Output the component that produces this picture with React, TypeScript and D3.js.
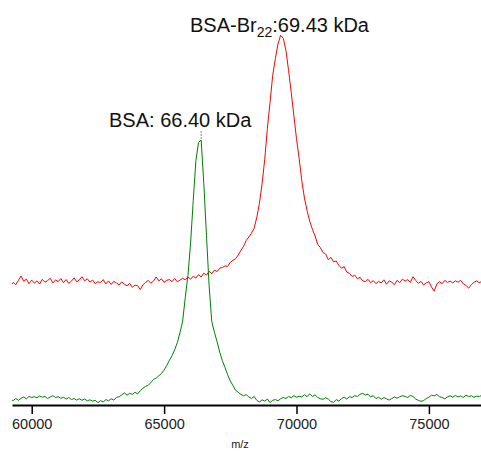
import React, { useEffect, useRef } from 'react';
import * as d3 from 'd3';

// spectra sampled every 100 Da starting at 59200 Da (relative intensity, BSA peak = 100)
const MZ_START = 59200;
const MZ_STEP = 100;

const bsa = [
  -0.6, -1.0, -0.2, -0.9, -0.1, 0.4, -0.3, 0.6, 0.2, 0.5,
  0.1, 0.8, 0.3, 0.6, -0.2, 0.4, 0.9, 0.2, 0.5, -0.1,
  0.3, -0.4, 0.2, -0.6, -0.2, -0.8, -0.3, -0.9, -0.4, -1.1,
  -0.7, -1.2, -0.9, -1.8, -1.0, -1.5, -0.6, -1.1, -0.3, -0.8,
  0.2, 0.5, 1.2, 2.0, 1.1, 1.8, 1.4, 2.2, 1.6, 2.8,
  3.8, 4.5, 4.9, 6.0, 7.2, 7.7, 8.6, 9.5, 10.8, 12.6,
  14.6, 16.4, 18.7, 21.5, 25.3, 29.8, 39.0, 47.5, 60.0, 76.5,
  92.0, 99.0, 100.0, 83.0, 63.0, 43.5, 29.6, 25.5, 21.8, 17.8,
  14.5, 11.8, 9.0, 6.6, 4.8, 3.0, 2.2, 1.4, 0.9, 1.3,
  0.4, -0.2, 0.6, -0.9, -1.6, -0.7, -1.2, -0.4, -1.8, -0.9,
  -0.6, -1.1, -0.3, 0.2, -0.2, 0.6, 0.1, 0.9, 0.3, 0.7,
  0.4, 1.3, 0.5, 1.6, 0.6, 1.2, 0.2, -0.3, -0.5, 0.1,
  -0.4, -1.4, -1.7, -0.6, -1.2, -0.2, 0.3, -0.4, 0.5, 0.2,
  0.9, 0.6, 1.4, 1.8, 1.2, 1.5, 0.4, 0.9, -0.2, 0.3,
  -0.5, 0.2, -0.3, -0.8, -0.2, 0.4, -0.1, 0.5, 0.9, 0.6,
  0.2, 1.0, 0.6, -0.4, -0.9, -1.3, -1.0, -0.2, 0.3, 1.1,
  0.8, 1.4, 0.5, 0.2, -0.3, 0.4, 0.9, 0.3, 1.0, 0.4,
  0.8, 0.2, 1.1, 0.5, 0.9, 0.3, 0.7, 0.6, 1.0,
];

// BSA-Br22 trace, already shifted up for display
const bsaBr = [
  43.4, 44.8, 43.9, 45.6, 47.3, 45.2, 46.1, 44.3, 45.7, 44.5,
  45.4, 44.2, 46.0, 44.9, 45.5, 46.4, 44.6, 45.8, 45.1, 46.3,
  44.7, 45.9, 44.4, 45.3, 46.6, 45.0, 45.8, 47.0, 45.4, 46.2,
  44.9, 45.7, 44.3, 45.1, 44.7, 45.9, 44.2, 45.4, 44.0, 45.2,
  44.6, 43.8, 45.0, 44.1, 43.5, 44.4, 42.9, 43.7, 43.6, 42.0,
  43.9, 44.8, 45.6, 44.5, 45.3, 46.9, 45.4, 46.2, 44.8, 45.6,
  45.9, 45.1, 46.3, 45.0, 45.7, 46.4, 45.8, 46.9, 46.0, 47.2,
  46.5, 47.8, 46.9, 48.4, 47.6, 49.1, 48.2, 49.6, 49.0, 50.3,
  50.6, 51.2, 51.0, 52.6, 53.4, 54.0, 55.4, 57.2, 58.8, 61.0,
  62.4, 63.9, 65.8, 70.0, 75.5, 83.0, 92.5, 104.5, 114.5, 125.0,
  131.5, 137.2, 140.6, 139.4, 134.8, 127.0, 118.5, 109.5, 100.5, 92.8,
  84.2, 77.5, 72.6, 68.5, 65.4, 62.8, 59.6, 58.3, 56.4, 55.8,
  53.6, 54.5, 52.8, 53.1, 51.4, 50.3, 50.9, 48.8, 48.3, 47.1,
  47.6, 46.2, 46.8, 45.4, 45.1, 46.0, 44.7, 45.5, 44.3, 45.2,
  44.6, 45.8, 44.1, 45.4, 44.9, 43.9, 45.6, 44.7, 46.1, 45.3,
  45.9, 44.8, 47.0, 45.6, 44.4, 45.2, 43.8, 44.6, 45.1, 43.0,
  41.4, 44.2, 45.1, 44.3, 45.6, 44.8, 45.3, 44.6, 45.4, 44.9,
  45.6, 44.2, 43.6, 42.6, 43.9, 44.8, 45.4, 44.7, 45.2,
];

const xTicks = [60000, 65000, 70000, 75000];
const bsaPeak = { mz: 66400, value: 100 };
const bsaBrPeak = { mz: 69430, value: 140.6 };

const W = 481;
const H = 452;
const FONT = '"Liberation Sans", Arial, Helvetica, sans-serif';

const App = () => {
  const ref = useRef<SVGSVGElement>(null);

  useEffect(() => {
    const svg = d3.select(ref.current);
    svg.selectAll('*').remove();

    const mz = d3.range(bsa.length).map(i => MZ_START + i * MZ_STEP);

    const x = d3.scaleLinear().domain([59256, 76967]).range([12, 481]);
    const y = d3.scaleLinear().domain([0, 100]).range([398, 140]);

    svg.append('defs').append('clipPath').attr('id', 'plotClip')
      .append('rect').attr('x', 12).attr('y', 0).attr('width', W - 12).attr('height', H);

    const g = svg.append('g').attr('clip-path', 'url(#plotClip)');

    const line = d3.line<number>()
      .x((d, i) => x(mz[i]))
      .y(d => y(d));

    g.append('path')
      .attr('d', line(bsaBr))
      .attr('fill', 'none')
      .attr('stroke', '#ff0000')
      .attr('stroke-width', 1);

    g.append('path')
      .attr('d', line(bsa))
      .attr('fill', 'none')
      .attr('stroke', '#008000')
      .attr('stroke-width', 1);

    // small dashed marker above the BSA peak
    g.append('line')
      .attr('x1', x(bsaPeak.mz)).attr('x2', x(bsaPeak.mz))
      .attr('y1', y(bsaPeak.value) - 9).attr('y2', y(bsaPeak.value) - 1)
      .attr('stroke', '#888')
      .attr('stroke-dasharray', '2,1');

    const axis = g.append('g')
      .attr('transform', 'translate(0,405)')
      .call(d3.axisBottom(x).tickValues(xTicks).tickSize(9).tickSizeOuter(0).tickPadding(5).tickFormat(d3.format('d')));
    axis.select('.domain').attr('stroke', '#000').attr('stroke-width', 2);
    axis.selectAll('.tick line').attr('stroke', '#000').attr('stroke-width', 1.5);
    axis.selectAll('.tick text')
      .attr('fill', '#222')
      .style('font-family', FONT)
      .style('font-size', '14.5px');

    svg.append('text')
      .attr('x', 240).attr('y', 448)
      .attr('text-anchor', 'middle')
      .style('font-family', FONT)
      .style('font-size', '11px')
      .attr('fill', '#222')
      .text('m/z');

    svg.append('text')
      .attr('x', 109).attr('y', 127)
      .style('font-family', FONT)
      .style('font-size', '20px')
      .attr('fill', '#111')
      .text('BSA: 66.40 kDa');

    const brLabel = svg.append('text')
      .attr('x', 190).attr('y', 31.5)
      .style('font-family', FONT)
      .style('font-size', '20px')
      .attr('fill', '#111');
    brLabel.append('tspan').text('BSA-Br');
    brLabel.append('tspan').attr('dy', 5).style('font-size', '14px').text('22');
    brLabel.append('tspan').attr('dy', -5).text(':69.43 kDa');

    void bsaBrPeak;
  }, []);

  return (
    <svg
      ref={ref}
      width={W}
      height={H}
      style={{ position: 'absolute', left: 0, top: 0, background: '#fff' }}
    />
  );
};

export default App;
